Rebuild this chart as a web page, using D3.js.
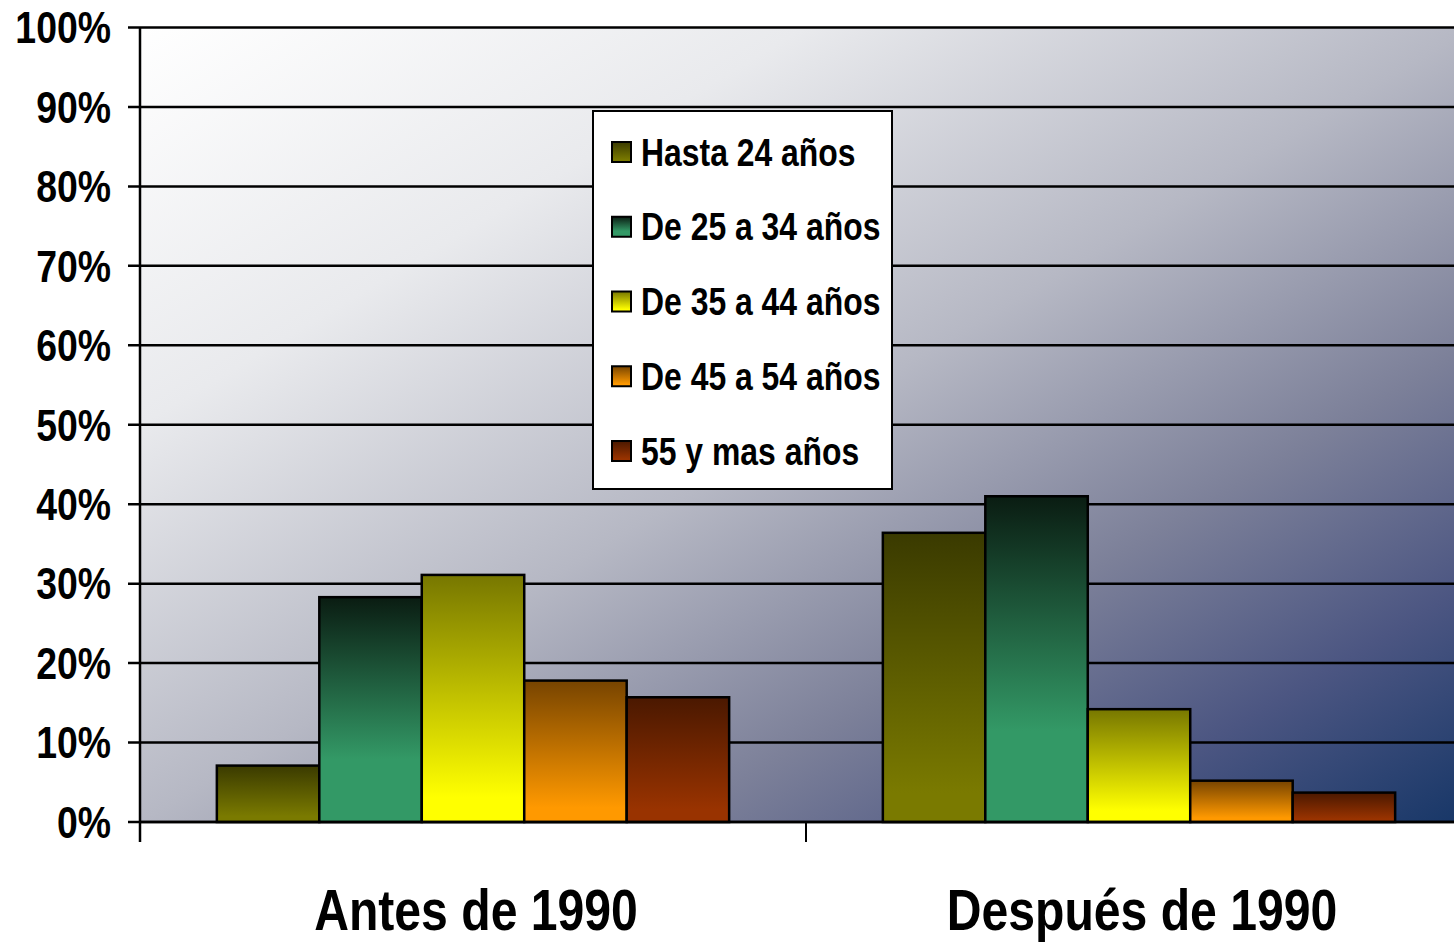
<!DOCTYPE html>
<html><head><meta charset="utf-8">
<script src="https://cdn.jsdelivr.net/npm/d3@7"></script>
<style>
html,body{margin:0;padding:0;background:#fff;overflow:hidden}
text{font-family:"Liberation Sans",Arial,sans-serif;font-weight:bold;fill:#000}
</style></head><body>
<svg id="c" width="1454" height="944"></svg>
<script>
const categories = ["Antes de 1990", "Después de 1990"];
const seriesNames = ["Hasta 24 años", "De 25 a 34 años", "De 35 a 44 años", "De 45 a 54 años", "55 y mas años"];
const hasta24 = [7.1, 36.4];
const de25a34 = [28.3, 41.0];
const de35a44 = [31.1, 14.2];
const de45a54 = [17.8, 5.2];
const de55mas = [15.7, 3.7];
const yTicks = [0, 10, 20, 30, 40, 50, 60, 70, 80, 90, 100];
const seriesTop = ["#3a3a00", "#0a1c12", "#777700", "#774400", "#4a1800"];
const seriesBottom = ["#7a7a00", "#339966", "#ffff00", "#ff9900", "#993300"];

const seriesValues = [hasta24, de25a34, de35a44, de45a54, de55mas];
const SX = 0.85; // condensed face

const svg = d3.select("#c");
const L = 140, R = 1472, T = 27.5, B = 822;
const y = d3.scaleLinear().domain([0, 100]).range([B, T]);
const x0 = d3.scaleBand().domain(categories).range([L, R]).paddingInner(0).paddingOuter(0);
const x1 = d3.scaleBand().domain(seriesNames).range([0, x0.bandwidth()]).paddingInner(0).paddingOuter(0.75);

const defs = svg.append("defs");
const bg = defs.append("linearGradient").attr("id", "bg")
  .attr("x1", 0).attr("y1", 0).attr("x2", 1).attr("y2", 1);
[[0, "#ffffff"], [0.25, "#e9eaed"], [0.5, "#b6b8c4"], [0.7, "#7c8099"], [0.85, "#4c5682"], [1, "#163667"]]
  .forEach(([o, c]) => bg.append("stop").attr("offset", o).attr("stop-color", c));

seriesNames.forEach((s, i) => {
  const g = defs.append("linearGradient").attr("id", "g" + i)
    .attr("x1", 0).attr("y1", 0).attr("x2", 0).attr("y2", 1);
  g.append("stop").attr("offset", 0).attr("stop-color", seriesTop[i]);
  g.append("stop").attr("offset", i === 1 ? 0.72 : 0.9).attr("stop-color", seriesBottom[i]);
  g.append("stop").attr("offset", 1).attr("stop-color", seriesBottom[i]);
});

// plot background
svg.append("rect").attr("x", L).attr("y", T).attr("width", R - L).attr("height", B - T).attr("fill", "url(#bg)");

// gridlines
svg.append("g").selectAll("line").data(yTicks).join("line")
  .attr("x1", L - 12).attr("x2", R).attr("y1", d => y(d)).attr("y2", d => y(d))
  .attr("stroke", "#000").attr("stroke-width", 2.5);

// y labels
svg.append("g").selectAll("text").data(yTicks).join("text")
  .attr("transform", d => `translate(111,${y(d)}) scale(${SX},1)`).attr("dy", "0.36em")
  .attr("text-anchor", "end").attr("font-size", 44).text(d => d + "%");

// bars
const groups = svg.append("g").selectAll("g").data(categories).join("g")
  .attr("transform", d => `translate(${x0(d)},0)`);
groups.selectAll("rect").data((c, ci) => seriesNames.map((s, si) => ({ s, si, v: seriesValues[si][ci] })))
  .join("rect")
  .attr("x", d => x1(d.s)).attr("width", x1.bandwidth())
  .attr("y", d => y(d.v)).attr("height", d => y(0) - y(d.v))
  .attr("fill", d => `url(#g${d.si})`).attr("stroke", "#000").attr("stroke-width", 2.5);

// axes
svg.append("line").attr("x1", L).attr("x2", L).attr("y1", T).attr("y2", 842).attr("stroke", "#000").attr("stroke-width", 2.5);
svg.append("line").attr("x1", L).attr("x2", R).attr("y1", B).attr("y2", B).attr("stroke", "#000").attr("stroke-width", 2.5);
svg.append("g").selectAll("line").data(categories).join("line")
  .attr("x1", d => x0(d) + x0.bandwidth()).attr("x2", d => x0(d) + x0.bandwidth())
  .attr("y1", B).attr("y2", 842).attr("stroke", "#000").attr("stroke-width", 2);

// category labels
svg.append("g").selectAll("text").data(categories).join("text")
  .attr("transform", d => `translate(${x0(d) + x0.bandwidth() / 2 + 3},930) scale(${SX - 0.02},1)`)
  .attr("text-anchor", "middle").attr("font-size", 58).text(d => d);

// legend
const lg = svg.append("g");
lg.append("rect").attr("x", 593).attr("y", 111).attr("width", 299).attr("height", 378)
  .attr("fill", "#fff").attr("stroke", "#000").attr("stroke-width", 2);
const rowY = d3.scaleLinear().domain([0, seriesNames.length - 1]).range([152, 451]);
const items = lg.selectAll("g").data(seriesNames).join("g")
  .attr("transform", (d, i) => `translate(0,${rowY(i)})`);
items.append("rect").attr("x", 612).attr("y", -10).attr("width", 19).attr("height", 20)
  .attr("fill", (d, i) => `url(#g${i})`).attr("stroke", "#000").attr("stroke-width", 2);
items.append("text").attr("transform", `translate(641,0) scale(${SX - 0.01},1)`)
  .attr("dy", "0.36em").attr("font-size", 38).text(d => d);
</script>
</body></html>
